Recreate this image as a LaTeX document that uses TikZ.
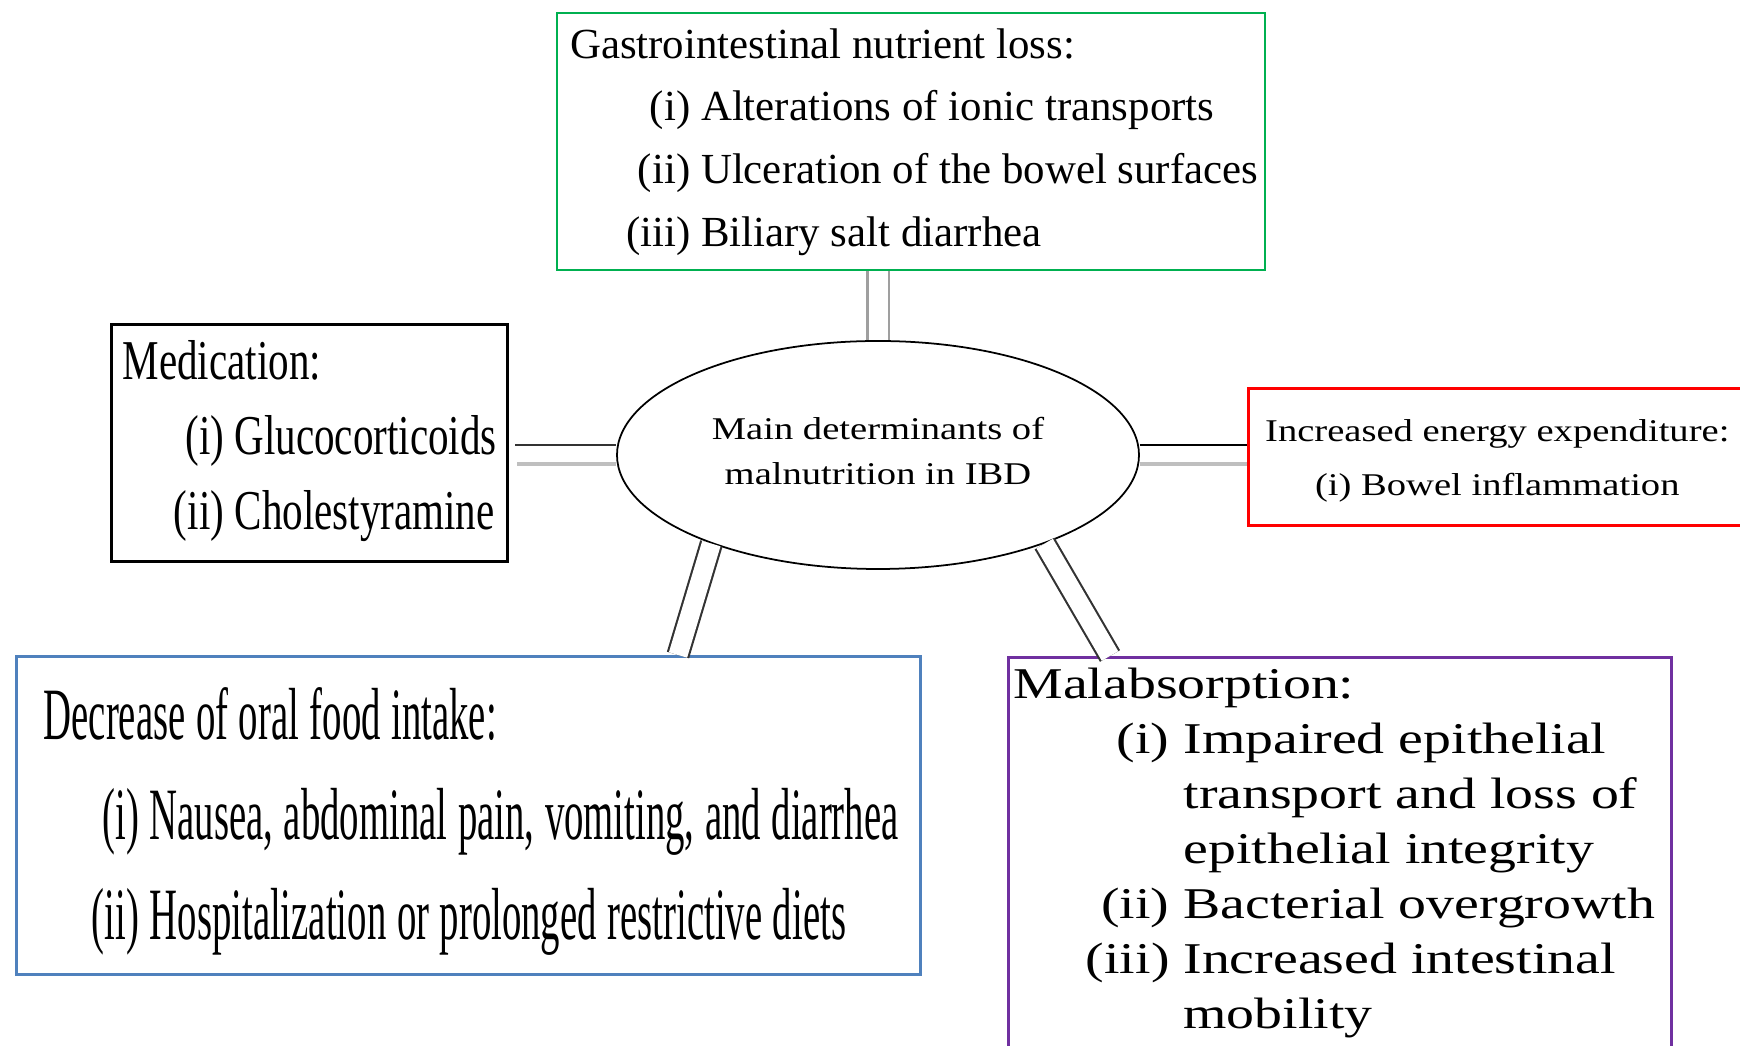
\documentclass[tikz,border=0pt]{standalone}
\usepackage{fontspec}
\setmainfont{Liberation Serif}
\newfontfamily\lossfont{Liberation Serif}
\newfontfamily\medfont[FakeStretch=0.73]{Liberation Serif}
\newfontfamily\ovalfont[FakeStretch=1.22]{Liberation Serif}
\newfontfamily\intakefont[FakeStretch=0.525]{Liberation Serif}
\newfontfamily\absfont[FakeStretch=1.27]{Liberation Serif}
\usetikzlibrary{calc,shapes.geometric}
\definecolor{lossgreen}{RGB}{0,176,80}
\definecolor{energyred}{RGB}{255,0,0}
\definecolor{intakeblue}{RGB}{79,129,189}
\definecolor{abspurple}{RGB}{112,48,160}
\newcommand{\itm}[3]{\mbox{\makebox[#1][r]{#2\ }#3}}
\newcommand{\medtext}{\medfont\fontsize{16}{21.3}\selectfont\spaceskip=3pt plus 1pt minus 1pt\relax}
\newcommand{\intaketext}{\intakefont\fontsize{21}{28.45}\selectfont\spaceskip=3pt plus 1pt minus 1pt\relax}

\begin{document}
\begin{tikzpicture}[
    box/.style={draw, anchor=north west, align=flush left, inner ysep=0pt},
    oval/.style={draw, ellipse, line width=0.5pt, inner sep=0pt, align=flush center},
    link/.style={draw=gray!75, line width=0.6pt, double=white, double distance=0.19cm},
    link dark/.style={link, draw=gray!40!black},
    thin link/.style={line width=0.6pt},
    thick link/.style={draw=gray!50, line width=1.2pt}
  ]
  \useasboundingbox (0,0) rectangle (17.40,-10.46);
  \clip (0,0) rectangle (17.40,-10.46);

  \node[box, draw=lossgreen, line width=0.6pt, text width=6.82cm, inner xsep=0.13cm,
    text height=0.45cm, text depth=2.12cm, font=\lossfont\fontsize{12.2}{17.9}\selectfont]
    (loss) at (5.56,-0.12) {Gastrointestinal nutrient loss:\\
      \itm{1.31cm}{(i)}{Alterations of ionic transports}\\
      \itm{1.31cm}{(ii)}{Ulceration of the bowel surfaces}\\
      \itm{1.31cm}{(iii)}{Biliary salt diarrhea}};

  \node[box, line width=0.95pt, text width=3.74cm, inner xsep=0.11cm,
    text height=0.55cm, text depth=1.82cm, font=\medtext]
    (med) at (1.10,-3.23) {Medication:\\
      \itm{1.12cm}{(i)}{Glucocorticoids}\\
      \itm{1.12cm}{(ii)}{Cholestyramine}};

  \node[oval, minimum width=5.22cm, minimum height=2.28cm, text width=3.6cm,
    text height=0.2cm, text depth=0.5cm, font=\ovalfont\fontsize{9}{12.8}\selectfont]
    (main) at (8.78,-4.55) {Main determinants of\\malnutrition in IBD};

  \node[box, draw=energyred, line width=0.75pt, align=flush center, text width=4.98cm, inner xsep=0pt,
    text height=0.53cm, text depth=0.84cm, font=\ovalfont\fontsize{9}{15.4}\selectfont]
    (energy) at (12.47,-3.87) {Increased energy expenditure:\\(i) Bowel inflammation};

  \node[box, draw=intakeblue, line width=0.95pt, text width=8.50cm, inner xsep=0.27cm,
    text height=0.83cm, text depth=2.35cm, font=\intaketext]
    (intake) at (0.15,-6.55) {Decrease of oral food intake:\\
      \itm{1.06cm}{(i)}{Nausea, abdominal pain, vomiting, and diarrhea}\\
      \itm{1.06cm}{(ii)}{Hospitalization or prolonged restrictive diets}};

  \node[box, draw=abspurple, line width=0.85pt, text width=6.53cm, inner xsep=0.05cm,
    text height=0.41cm, text depth=3.80cm, font=\absfont\fontsize{12.5}{15.65}\selectfont]
    (abs) at (10.07,-6.56) {Malabsorption:\\
      \itm{1.70cm}{(i)}{Impaired epithelial}\\
      \itm{1.70cm}{}{transport and loss of}\\
      \itm{1.70cm}{}{epithelial integrity}\\
      \itm{1.70cm}{(ii)}{Bacterial overgrowth}\\
      \itm{1.70cm}{(iii)}{Increased intestinal}\\
      \itm{1.70cm}{}{mobility}};

  \coordinate (intakeTop) at (intake.north -| 6.78,0);
  \coordinate (absTop) at (abs.north -| 11.10,0);

  \draw[link] (main.north) -- (main.north |- loss.south);
  \draw[thin link, draw=gray!40!black] ($(main.west)+(0,0.10)$) -- ($(med.east |- main.west)+(0.06,0.10)$);
  \draw[thick link] ($(main.west)+(0,-0.09)$) -- ($(med.east |- main.west)+(0.08,-0.09)$);
  \draw[thin link, draw=black] ($(main.east)+(0,0.10)$) -- ($(energy.west |- main.east)+(0,0.10)$);
  \draw[thick link] ($(main.east)+(0,-0.09)$) -- ($(energy.west |- main.east)+(0,-0.09)$);
  \draw[link dark] (main.208) -- (intakeTop);
  \draw[link dark] (main.332) -- (absTop);
\end{tikzpicture}
\end{document}
